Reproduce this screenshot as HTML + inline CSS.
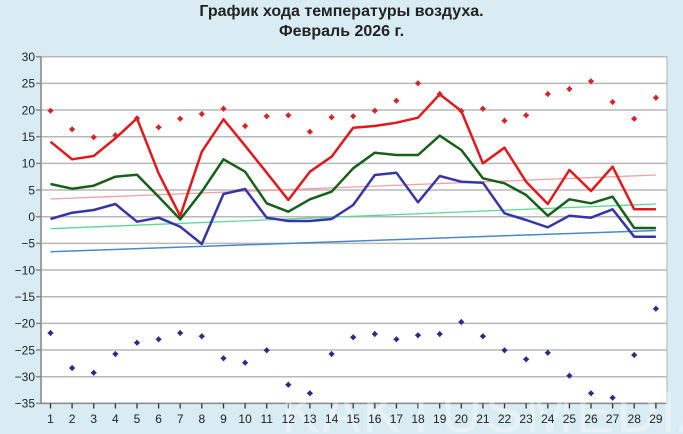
<!DOCTYPE html>
<html><head><meta charset="utf-8"><style>
html,body{margin:0;padding:0;background:#d9ecf4;}
svg{display:block;}
text{font-family:"Liberation Sans",sans-serif;}
</style></head><body>
<svg width="683" height="434" viewBox="0 0 683 434" xmlns="http://www.w3.org/2000/svg">
<defs>
<path id="mr" d="M0,-3.2 L1.5,-1.5 L3.2,0 L1.5,1.5 L0,3.2 L-1.5,1.5 L-3.2,0 L-1.5,-1.5 Z" fill="#d0262a"/>
<path id="mb" d="M0,-3.2 L1.5,-1.5 L3.2,0 L1.5,1.5 L0,3.2 L-1.5,1.5 L-3.2,0 L-1.5,-1.5 Z" fill="#2c2a85"/>
</defs>
<rect x="0" y="0" width="683" height="434" fill="#d9ecf4"/>
<text x="341.5" y="16" font-size="16" font-weight="bold" fill="#222" text-anchor="middle">График хода температуры воздуха.</text>
<text x="341.5" y="36" font-size="16" font-weight="bold" fill="#222" text-anchor="middle">Февраль 2026 г.</text>
<rect x="41" y="56.7" width="626" height="346.7" fill="#fff" stroke="#c4c8cc" stroke-width="1.5"/>
<g stroke="#b8b8b8" stroke-width="1.5">
<line x1="41" x2="667" y1="56.7" y2="56.7"/>
<line x1="41" x2="667" y1="83.4" y2="83.4"/>
<line x1="41" x2="667" y1="110" y2="110"/>
<line x1="41" x2="667" y1="136.7" y2="136.7"/>
<line x1="41" x2="667" y1="163.4" y2="163.4"/>
<line x1="41" x2="667" y1="190" y2="190"/>
<line x1="41" x2="667" y1="216.7" y2="216.7"/>
<line x1="41" x2="667" y1="243.4" y2="243.4"/>
<line x1="41" x2="667" y1="270" y2="270"/>
<line x1="41" x2="667" y1="296.7" y2="296.7"/>
<line x1="41" x2="667" y1="323.4" y2="323.4"/>
<line x1="41" x2="667" y1="350" y2="350"/>
<line x1="41" x2="667" y1="376.7" y2="376.7"/>
</g>
<g stroke="#8a8a8a" stroke-width="1.5">
<line x1="41" x2="41" y1="56.7" y2="403.4"/>
<line x1="41" x2="667" y1="403.4" y2="403.4"/>
<line x1="36" x2="41" y1="56.7" y2="56.7"/>
<line x1="36" x2="41" y1="83.4" y2="83.4"/>
<line x1="36" x2="41" y1="110" y2="110"/>
<line x1="36" x2="41" y1="136.7" y2="136.7"/>
<line x1="36" x2="41" y1="163.4" y2="163.4"/>
<line x1="36" x2="41" y1="190" y2="190"/>
<line x1="36" x2="41" y1="216.7" y2="216.7"/>
<line x1="36" x2="41" y1="243.4" y2="243.4"/>
<line x1="36" x2="41" y1="270" y2="270"/>
<line x1="36" x2="41" y1="296.7" y2="296.7"/>
<line x1="36" x2="41" y1="323.4" y2="323.4"/>
<line x1="36" x2="41" y1="350" y2="350"/>
<line x1="36" x2="41" y1="376.7" y2="376.7"/>
<line x1="36" x2="41" y1="403.4" y2="403.4"/>
</g>
<g stroke="#333" stroke-width="1.3">
<line x1="50.5" x2="50.5" y1="403.4" y2="408.5"/>
<line x1="72.1" x2="72.1" y1="403.4" y2="408.5"/>
<line x1="93.7" x2="93.7" y1="403.4" y2="408.5"/>
<line x1="115.4" x2="115.4" y1="403.4" y2="408.5"/>
<line x1="137" x2="137" y1="403.4" y2="408.5"/>
<line x1="158.6" x2="158.6" y1="403.4" y2="408.5"/>
<line x1="180.2" x2="180.2" y1="403.4" y2="408.5"/>
<line x1="201.8" x2="201.8" y1="403.4" y2="408.5"/>
<line x1="223.5" x2="223.5" y1="403.4" y2="408.5"/>
<line x1="245.1" x2="245.1" y1="403.4" y2="408.5"/>
<line x1="266.7" x2="266.7" y1="403.4" y2="408.5"/>
<line x1="288.3" x2="288.3" y1="403.4" y2="408.5"/>
<line x1="309.9" x2="309.9" y1="403.4" y2="408.5"/>
<line x1="331.6" x2="331.6" y1="403.4" y2="408.5"/>
<line x1="353.2" x2="353.2" y1="403.4" y2="408.5"/>
<line x1="374.8" x2="374.8" y1="403.4" y2="408.5"/>
<line x1="396.4" x2="396.4" y1="403.4" y2="408.5"/>
<line x1="418" x2="418" y1="403.4" y2="408.5"/>
<line x1="439.7" x2="439.7" y1="403.4" y2="408.5"/>
<line x1="461.3" x2="461.3" y1="403.4" y2="408.5"/>
<line x1="482.9" x2="482.9" y1="403.4" y2="408.5"/>
<line x1="504.5" x2="504.5" y1="403.4" y2="408.5"/>
<line x1="526.1" x2="526.1" y1="403.4" y2="408.5"/>
<line x1="547.8" x2="547.8" y1="403.4" y2="408.5"/>
<line x1="569.4" x2="569.4" y1="403.4" y2="408.5"/>
<line x1="591" x2="591" y1="403.4" y2="408.5"/>
<line x1="612.6" x2="612.6" y1="403.4" y2="408.5"/>
<line x1="634.2" x2="634.2" y1="403.4" y2="408.5"/>
<line x1="655.9" x2="655.9" y1="403.4" y2="408.5"/>
</g>
<g font-size="12" fill="#222" text-anchor="end">
<text x="35" y="61">30</text>
<text x="35" y="87.7">25</text>
<text x="35" y="114.3">20</text>
<text x="35" y="141">15</text>
<text x="35" y="167.7">10</text>
<text x="35" y="194.3">5</text>
<text x="35" y="221">0</text>
<text x="35" y="247.7">−5</text>
<text x="35" y="274.3">−10</text>
<text x="35" y="301">−15</text>
<text x="35" y="327.7">−20</text>
<text x="35" y="354.3">−25</text>
<text x="35" y="381">−30</text>
<text x="35" y="407.7">−35</text>
</g>
<text x="500" y="432" font-size="58" fill="#fff" fill-opacity="0.35" text-anchor="middle" letter-spacing="2">KAKTUSMEDIA</text>
<g font-size="12" fill="#222" text-anchor="middle">
<text x="50.5" y="423">1</text>
<text x="72.1" y="423">2</text>
<text x="93.7" y="423">3</text>
<text x="115.4" y="423">4</text>
<text x="137" y="423">5</text>
<text x="158.6" y="423">6</text>
<text x="180.2" y="423">7</text>
<text x="201.8" y="423">8</text>
<text x="223.5" y="423">9</text>
<text x="245.1" y="423">10</text>
<text x="266.7" y="423">11</text>
<text x="288.3" y="423">12</text>
<text x="309.9" y="423">13</text>
<text x="331.6" y="423">14</text>
<text x="353.2" y="423">15</text>
<text x="374.8" y="423">16</text>
<text x="396.4" y="423">17</text>
<text x="418" y="423">18</text>
<text x="439.7" y="423">19</text>
<text x="461.3" y="423">20</text>
<text x="482.9" y="423">21</text>
<text x="504.5" y="423">22</text>
<text x="526.1" y="423">23</text>
<text x="547.8" y="423">24</text>
<text x="569.4" y="423">25</text>
<text x="591" y="423">26</text>
<text x="612.6" y="423">27</text>
<text x="634.2" y="423">28</text>
<text x="655.9" y="423">29</text>
</g>
<line x1="50.5" y1="199" x2="655.9" y2="175" stroke="#f0a0a0" stroke-width="1.3"/>
<line x1="50.5" y1="228.7" x2="655.9" y2="204" stroke="#5ad890" stroke-width="1.3"/>
<line x1="50.5" y1="251.7" x2="655.9" y2="230.5" stroke="#4a88c8" stroke-width="1.5"/>
<polyline fill="none" stroke="#e0191b" stroke-width="2.5" stroke-linejoin="round" points="50.5,141.7 72.1,159.3 93.7,156 115.4,138.3 137,118.3 158.6,173.3 180.2,216 201.8,151.7 223.5,119.3 245.1,145.7 266.7,172.7 288.3,200 309.9,171.7 331.6,156.7 353.2,127.7 374.8,126 396.4,122.7 418,117.7 439.7,94.3 461.3,111 482.9,163.3 504.5,147.7 526.1,181.7 547.8,204 569.4,170 591,191 612.6,166.7 634.2,209.3 655.9,209.3"/>
<polyline fill="none" stroke="#16601a" stroke-width="2.5" stroke-linejoin="round" points="50.5,184 72.1,188.7 93.7,185.7 115.4,176.7 137,174.7 158.6,196.7 180.2,219.3 201.8,191.7 223.5,159.3 245.1,171.7 266.7,203.3 288.3,211.7 309.9,199.3 331.6,191.7 353.2,168.3 374.8,152.7 396.4,155 418,155 439.7,135.7 461.3,150 482.9,178.3 504.5,183.3 526.1,195 547.8,215.7 569.4,199.3 591,203.3 612.6,196.7 634.2,228 655.9,228"/>
<polyline fill="none" stroke="#3535a5" stroke-width="2.5" stroke-linejoin="round" points="50.5,219 72.1,212.7 93.7,210 115.4,204 137,221.7 158.6,217.7 180.2,226.7 201.8,244 223.5,194 245.1,189 266.7,217.7 288.3,221 309.9,221 331.6,219 353.2,205 374.8,175 396.4,172.7 418,202.3 439.7,176 461.3,181.7 482.9,182.7 504.5,213.3 526.1,220 547.8,227.3 569.4,215.7 591,217.7 612.6,209.3 634.2,236.7 655.9,236.7"/>
<use href="#mr" x="50.5" y="110.7"/><use href="#mr" x="72.1" y="129.3"/><use href="#mr" x="93.7" y="137.3"/><use href="#mr" x="115.4" y="135.3"/><use href="#mr" x="137" y="118.3"/><use href="#mr" x="158.6" y="127.3"/><use href="#mr" x="180.2" y="118.7"/><use href="#mr" x="201.8" y="114"/><use href="#mr" x="223.5" y="108.7"/><use href="#mr" x="245.1" y="126"/><use href="#mr" x="266.7" y="116.3"/><use href="#mr" x="288.3" y="115.3"/><use href="#mr" x="309.9" y="131.7"/><use href="#mr" x="331.6" y="117.3"/><use href="#mr" x="353.2" y="116.3"/><use href="#mr" x="374.8" y="110.7"/><use href="#mr" x="396.4" y="100.7"/><use href="#mr" x="418" y="83.3"/><use href="#mr" x="439.7" y="94"/><use href="#mr" x="461.3" y="111"/><use href="#mr" x="482.9" y="108.7"/><use href="#mr" x="504.5" y="120.7"/><use href="#mr" x="526.1" y="115.3"/><use href="#mr" x="547.8" y="94"/><use href="#mr" x="569.4" y="89"/><use href="#mr" x="591" y="81.3"/><use href="#mr" x="612.6" y="102"/><use href="#mr" x="634.2" y="118.7"/><use href="#mr" x="655.9" y="97.7"/>
<use href="#mb" x="50.5" y="333"/><use href="#mb" x="72.1" y="368"/><use href="#mb" x="93.7" y="372.7"/><use href="#mb" x="115.4" y="354"/><use href="#mb" x="137" y="342.7"/><use href="#mb" x="158.6" y="339.3"/><use href="#mb" x="180.2" y="333"/><use href="#mb" x="201.8" y="336.3"/><use href="#mb" x="223.5" y="358.3"/><use href="#mb" x="245.1" y="362.7"/><use href="#mb" x="266.7" y="350.3"/><use href="#mb" x="288.3" y="384.7"/><use href="#mb" x="309.9" y="393.3"/><use href="#mb" x="331.6" y="354"/><use href="#mb" x="353.2" y="337.3"/><use href="#mb" x="374.8" y="334"/><use href="#mb" x="396.4" y="339.3"/><use href="#mb" x="418" y="335.3"/><use href="#mb" x="439.7" y="334"/><use href="#mb" x="461.3" y="322"/><use href="#mb" x="482.9" y="336.3"/><use href="#mb" x="504.5" y="350.3"/><use href="#mb" x="526.1" y="359.3"/><use href="#mb" x="547.8" y="352.7"/><use href="#mb" x="569.4" y="375.7"/><use href="#mb" x="591" y="393.3"/><use href="#mb" x="612.6" y="397.7"/><use href="#mb" x="634.2" y="355"/><use href="#mb" x="655.9" y="308.7"/>
</svg>
</body></html>
